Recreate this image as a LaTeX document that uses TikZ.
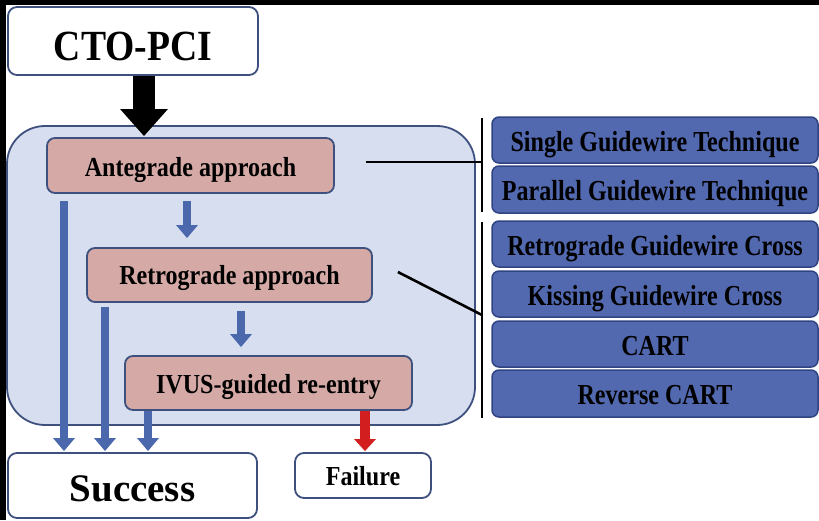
\documentclass[tikz,border=0pt]{standalone}
\usepackage{fontspec}
\setmainfont{Liberation Serif}[FakeStretch=0.875]
\newfontfamily\techfont{Liberation Serif}[FakeStretch=0.83]
\newfontfamily\plainfont{Liberation Serif}
\usetikzlibrary{arrows.meta}
\definecolor{lightbg}{RGB}{214,222,239}
\definecolor{pinkfill}{RGB}{213,170,166}
\definecolor{edgec}{RGB}{62,80,125}
\definecolor{bluebox}{RGB}{82,104,175}
\definecolor{blueedge}{RGB}{48,68,130}
\definecolor{arrowblue}{RGB}{76,104,173}
\definecolor{redarrow}{RGB}{210,30,30}
\begin{document}
\begin{tikzpicture}[x=1pt,y=-1pt,
  ptxt/.style={font=\bfseries\fontsize{27.5}{29}\selectfont, text height=20.2pt, text depth=0pt},
  ttxt/.style={font=\techfont\bfseries\fontsize{29}{31}\selectfont, text height=22.2pt, text depth=0pt},
  whitebox/.style={draw=edgec, fill=white, line width=1.8pt, rounded corners=9pt, inner sep=0pt},
  pinkbox/.style={draw=edgec, fill=pinkfill, line width=1.8pt, rounded corners=8pt, inner sep=0pt, ptxt},
  groupbox/.style={draw=edgec, fill=lightbg, line width=1.8pt, rounded corners=38pt, inner sep=0pt},
  techbox/.style={draw=blueedge, fill=bluebox, line width=1.5pt, rounded corners=7pt, inner sep=0pt, ttxt,
     minimum width=326pt},
  barrow/.style={draw=arrowblue, line width=8pt, -{Triangle[width=21pt,length=13pt]}},
  rarrow/.style={draw=redarrow, line width=10pt, -{Triangle[width=21pt,length=12pt]}},
  karrow/.style={draw=black, line width=22pt, -{Triangle[width=46pt,length=27pt]}},
  vline/.style={draw=black, line width=2.6pt}]
\useasboundingbox (0,0) rectangle (819,520);
% black strips
\fill[black] (0,0) rectangle (819,5);
\fill[black] (0,0) rectangle (6,520);

% group box
\node[groupbox, minimum width=468pt, minimum height=299pt] (group) at (241,275.5) {};

% nodes
\node[whitebox, minimum width=250pt, minimum height=68pt,
      font=\bfseries\fontsize{43}{45}\selectfont, text height=38.5pt, text depth=0pt] (cto) at (133,41) {CTO-PCI};
\node[pinkbox, minimum width=287pt, minimum height=55pt, text height=21.2pt] (ante) at (190.5,165.5) {Antegrade approach};
\node[pinkbox, minimum width=285pt, minimum height=54pt, text height=18.2pt] (retro) at (229.5,275) {Retrograde approach};
\node[pinkbox, minimum width=287pt, minimum height=54pt] (ivus) at (268.5,383) {IVUS-guided re-entry};
\node[whitebox, minimum width=249pt, minimum height=65pt,
      font=\plainfont\bfseries\fontsize{39}{41}\selectfont, text height=32.8pt, text depth=0pt] (success) at (132.5,485.5) {Success};
\node[whitebox, minimum width=136pt, minimum height=45pt, ptxt] (failure) at (363,475.5) {Failure};

% technique boxes
\node[techbox, minimum height=46pt] (t1) at (655,140) {Single Guidewire Technique};
\node[techbox, minimum height=47pt] (t2) at (655,189.5) {Parallel Guidewire Technique};
\node[techbox, minimum height=46pt] (t3) at (655,244) {Retrograde Guidewire Cross};
\node[techbox, minimum height=46pt] (t4) at (655,294) {Kissing Guidewire Cross};
\node[techbox, minimum height=46pt] (t5) at (655,344) {CART};
\node[techbox, minimum height=47pt] (t6) at (655,393.5) {Reverse CART};

% coordinates for arrow columns
\coordinate (xk) at (144,0);
\coordinate (xa) at (64,0);
\coordinate (xb) at (105,0);
\coordinate (xc) at (148,0);
\coordinate (xd) at (187,0);
\coordinate (xe) at (241,0);
\coordinate (xf) at (365,0);

% arrows
\draw[karrow, shorten >=1pt] (cto.south -| xk) -- (ante.north -| xk);
\draw[barrow, shorten <=7pt, shorten >=1pt] (ante.south -| xa) -- (success.north -| xa);
\draw[barrow, shorten <=7pt, shorten >=9pt] (ante.south -| xd) -- (retro.north -| xd);
\draw[barrow, shorten <=4pt, shorten >=1pt] (retro.south -| xb) -- (success.north -| xb);
\draw[barrow, shorten <=8pt, shorten >=8pt] (retro.south -| xe) -- (ivus.north -| xe);
\draw[barrow, shorten >=1pt] (ivus.south -| xc) -- (success.north -| xc);
\draw[rarrow, shorten >=1pt] (ivus.south -| xf) -- (failure.north -| xf);

% bracket lines
\coordinate (v1a) at (482,118);
\coordinate (v1b) at (482,212);
\coordinate (v2a) at (482,222);
\coordinate (v2b) at (482,418);
\coordinate (v2m) at (482,315);
\draw[vline] (v1a) -- (v1b);
\draw[vline] (v2a) -- (v2b);
\draw[vline] ([xshift=31pt,yshift=3.5pt]ante.east) -- ([yshift=3.5pt]ante.east -| v1a);
\draw[vline] ([xshift=25pt,yshift=3pt]retro.east) -- (v2m);
\end{tikzpicture}
\end{document}
